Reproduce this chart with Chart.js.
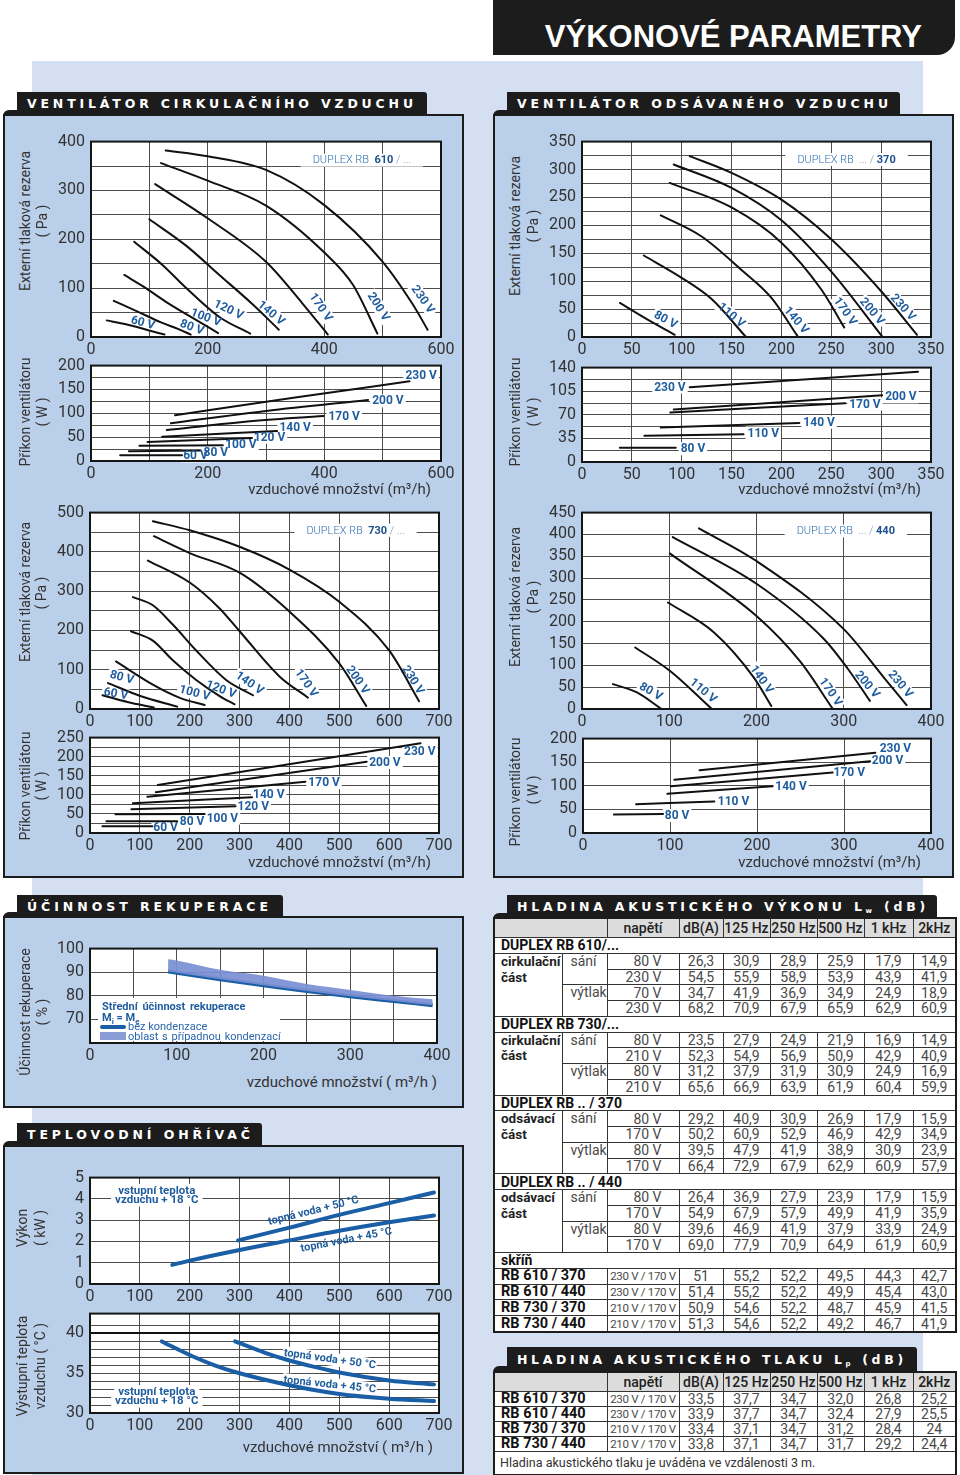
<!DOCTYPE html>
<html><head><meta charset="utf-8">
<script src="https://cdn.jsdelivr.net/npm/chart.js@4.4.1/dist/chart.umd.min.js"></script>
<style>
body{margin:0;width:960px;height:1475px;position:relative;overflow:hidden;background:#fff;font-family:Roboto,sans-serif}
.abs{position:absolute}
.bg{left:32px;top:61px;width:891px;height:1414px;background:#d4e0f1}
.head{left:493px;top:0;width:462px;height:55px;background:#1c1c1c;border-bottom-right-radius:18px;color:#fff;font:bold 31px "Liberation Sans",Arial,sans-serif;text-align:right;box-sizing:border-box;padding-right:33px;line-height:74px}
.tab{position:absolute;background:#1c1c1c;color:#fff;font:bold 12.5px "DejaVu Sans",sans-serif;white-space:nowrap;box-sizing:border-box;padding-left:10px;border-top-right-radius:3px}
.tab sub{font-size:7px;vertical-align:-2px}
.bump{position:absolute;background:#1c1c1c;border-top-left-radius:8px;width:16px;height:6px}
.panel{position:absolute;background:#bacfe9;border:2px solid #1c1c1c;box-sizing:border-box}
.yt{position:absolute;transform:translate(-50%,-50%) rotate(-90deg);white-space:nowrap;font:14px Roboto;color:#333}
.xt{position:absolute;white-space:nowrap;font:15px Roboto;color:#333;transform:translateY(-50%)}
.tb{position:absolute;border-collapse:collapse;table-layout:fixed;border:2px solid #1c1c1c;background:#fff;font:14px Roboto;color:#4a4a4a}
.tb td{border:1px solid #333;padding:0;text-align:center;line-height:14px;white-space:nowrap;overflow:hidden}
.tb tr.hd td{background:#dcdcdc;color:#222;height:18px;font-weight:500}
.tb tr.sec td{text-align:left;font-weight:bold;color:#111;padding-left:6px}
.tb td.part{text-align:left;vertical-align:top;font-weight:bold;color:#222;padding-left:6px;line-height:15.8px;font-size:13.5px}
.tb td.side{text-align:left;vertical-align:top;padding-left:8px;line-height:15.8px}
.tb td.u{text-align:right;padding-right:17px}
.tb td.nm{text-align:left;font-weight:bold;color:#111;padding-left:6px;font-size:14.5px}
.tb td.uu{font-size:11.5px;letter-spacing:-0.3px}
.leg{position:absolute;left:98px;top:998px;width:182px;height:43px;background:#fff;color:#1f5d9e;font:11px Roboto;white-space:nowrap}
</style>
</head><body>
<div class="abs bg"></div>
<div class="abs head">VÝKONOVÉ PARAMETRY</div>
<script>
// ---------- data ----------
const volts8 = ['60 V', '80 V', '100 V', '120 V', '140 V', '170 V', '200 V', '230 V'];
const volts6 = ['80 V', '110 V', '140 V', '170 V', '200 V', '230 V'];

// DUPLEX RB 610 – tlak [m3/h, Pa]
const p610 = [
  [[27, 34], [60, 26], [95, 15], [126, 5]],
  [[39, 74], [80, 52], [120, 30], [150, 16], [171, 5]],
  [[57, 127], [90, 103], [134, 68], [180, 35], [218, 8]],
  [[74, 195], [123, 147], [160, 104], [220, 41], [273, 7]],
  [[100, 241], [163, 187], [220, 127], [277, 67], [322, 15]],
  [[110, 313], [200, 243], [300, 154], [363, 68], [406, 5]],
  [[120, 356], [200, 320], [300, 269], [400, 173], [449, 107], [491, 7]],
  [[128, 382], [200, 370], [300, 342], [400, 270], [500, 154], [551, 68], [577, 15]]
];
// DUPLEX RB 610 – příkon [m3/h, W]
const w610 = [
  [[50, 12], [156, 12]],
  [[65, 20.5], [187, 22]],
  [[83, 32], [226, 33]],
  [[97, 40], [276, 48]],
  [[122, 51], [319, 63]],
  [[130, 65], [260, 82], [399, 94.5]],
  [[137, 79], [300, 105], [475, 128]],
  [[144, 96], [350, 133], [546, 167]]
];
// DUPLEX RB 730 – tlak
const p730 = [
  [[25, 35], [75, 18], [128, 4]],
  [[36, 66], [101, 33], [175, 6]],
  [[52, 121], [126, 62], [179, 29], [230, 10]],
  [[82, 198], [126, 174], [166, 124], [213, 74], [260, 33], [290, 12]],
  [[86, 285], [126, 264], [166, 215], [213, 149], [273, 74], [327, 35]],
  [[116, 378], [200, 322], [260, 256], [300, 198], [380, 83], [437, 29]],
  [[128, 440], [200, 397], [300, 347], [400, 248], [500, 116], [554, 8]],
  [[126, 478], [200, 455], [300, 413], [400, 355], [500, 273], [600, 149], [660, 20]]
];
// DUPLEX RB 730 – příkon
const w730 = [
  [[25, 18], [125, 18]],
  [[33, 31], [175, 31]],
  [[51, 49], [230, 49.5]],
  [[83, 62], [292, 70]],
  [[86, 78], [325, 94]],
  [[115, 95], [432, 134]],
  [[132, 107], [555, 187]],
  [[136, 126], [663, 235]]
];
// DUPLEX RB ../370 – tlak
const p370 = [
  [[38, 61], [65, 32], [93, 4]],
  [[62, 146], [100, 106], [130, 68], [164, 1]],
  [[79, 218], [120, 180], [160, 120], [190, 70], [216, 2]],
  [[88, 276], [150, 232], [200, 169], [240, 85], [263, 17]],
  [[92, 309], [150, 267], [200, 209], [250, 117], [301, 1]],
  [[108, 324], [150, 294], [200, 246], [250, 175], [300, 82], [336, 4]]
];
// DUPLEX RB ../370 – příkon
const w370 = [
  [[38, 21], [94, 21]],
  [[62.5, 39], [162, 41]],
  [[79, 51], [218, 58]],
  [[88.5, 73.5], [264, 87]],
  [[92, 78], [301, 99]],
  [[108, 111], [337, 134]]
];
// DUPLEX RB ../440 – tlak
const p440 = [
  [[35.5, 57], [63, 38], [90, 1.5]],
  [[61, 141], [101, 87], [148, 1.5]],
  [[98.5, 244], [151, 176], [197, 72], [217, 7]],
  [[101, 356], [200, 213], [250, 109], [287, 1.5]],
  [[104, 394], [200, 287], [277, 161], [304, 94], [330, 18.5]],
  [[134, 414], [200, 339], [300, 183], [346, 72], [372, 9]]
];
// DUPLEX RB ../440 – příkon
const w440 = [
  [[35.5, 39], [92, 40]],
  [[61, 61], [151, 67]],
  [[97, 83], [218, 99]],
  [[101, 99], [287, 128]],
  [[105, 113], [330, 152]],
  [[134, 133], [336, 170]]
];
// účinnost rekuperace
const effFlow = [90, 100, 150, 200, 250, 300, 350, 395];
const effDry = [90.3, 89.8, 87, 84.5, 82, 79.8, 77.8, 76];
const effWet = [95.5, 95, 91, 88.5, 85, 82.5, 80, 78.5];
// teplovodní ohřívač
const heat45 = [[165, 0.9], [200, 1.1], [300, 1.6], [400, 2.05], [500, 2.5], [600, 2.9], [690, 3.22]];
const heat50 = [[297, 2.05], [400, 2.65], [500, 3.25], [600, 3.8], [690, 4.3]];
const tout45 = [[144, 39], [200, 37.3], [250, 36], [300, 35], [400, 33.5], [500, 32.4], [600, 31.8], [690, 31.5]];
const tout50 = [[291, 39], [350, 37.6], [400, 36.6], [450, 35.8], [500, 35.1], [600, 34.1], [690, 33.6]];

// tabulky
const noiseCols = ['napětí', 'dB(A)', '125 Hz', '250 Hz', '500 Hz', '1 kHz', '2kHz'];
const lw610 = [
  ['80 V', '26,3', '30,9', '28,9', '25,9', '17,9', '14,9'],
  ['230 V', '54,5', '55,9', '58,9', '53,9', '43,9', '41,9'],
  ['70 V', '34,7', '41,9', '36,9', '34,9', '24,9', '18,9'],
  ['230 V', '68,2', '70,9', '67,9', '65,9', '62,9', '60,9']
];
const lw730 = [
  ['80 V', '23,5', '27,9', '24,9', '21,9', '16,9', '14,9'],
  ['210 V', '52,3', '54,9', '56,9', '50,9', '42,9', '40,9'],
  ['80 V', '31,2', '37,9', '31,9', '30,9', '24,9', '16,9'],
  ['210 V', '65,6', '66,9', '63,9', '61,9', '60,4', '59,9']
];
const lw370 = [
  ['80 V', '29,2', '40,9', '30,9', '26,9', '17,9', '15,9'],
  ['170 V', '50,2', '60,9', '52,9', '46,9', '42,9', '34,9'],
  ['80 V', '39,5', '47,9', '41,9', '38,9', '30,9', '23,9'],
  ['170 V', '66,4', '72,9', '67,9', '62,9', '60,9', '57,9']
];
const lw440 = [
  ['80 V', '26,4', '36,9', '27,9', '23,9', '17,9', '15,9'],
  ['170 V', '54,9', '67,9', '57,9', '49,9', '41,9', '35,9'],
  ['80 V', '39,6', '46,9', '41,9', '37,9', '33,9', '24,9'],
  ['170 V', '69,0', '77,9', '70,9', '64,9', '61,9', '60,9']
];
const lwCase = [
  ['RB 610 / 370', '230 V / 170 V', '51', '55,2', '52,2', '49,5', '44,3', '42,7'],
  ['RB 610 / 440', '230 V / 170 V', '51,4', '55,2', '52,2', '49,9', '45,4', '43,0'],
  ['RB 730 / 370', '210 V / 170 V', '50,9', '54,6', '52,2', '48,7', '45,9', '41,5'],
  ['RB 730 / 440', '210 V / 170 V', '51,3', '54,6', '52,2', '49,2', '46,7', '41,9']
];
const lpCase = [
  ['RB 610 / 370', '230 V / 170 V', '33,5', '37,7', '34,7', '32,0', '26,8', '25,2'],
  ['RB 610 / 440', '230 V / 170 V', '33,9', '37,7', '34,7', '32,4', '27,9', '25,5'],
  ['RB 730 / 370', '210 V / 170 V', '33,4', '37,1', '34,7', '31,2', '28,4', '24'],
  ['RB 730 / 440', '210 V / 170 V', '33,8', '37,1', '34,7', '31,7', '29,2', '24,4']
];

// label placement (x, y in data units, rotation)
const p610Pos = [[89, 29, 15], [173, 20, 20], [197, 40, 20], [236, 56, 25], [309, 49, 40], [394, 61, 55], [493, 62, 58], [569, 77, 55]];
const p730Pos = [[52, 39, 10], [64, 81, 15], [210, 41, 15], [263, 50, 20], [320, 66, 35], [434, 66, 55], [537, 74, 55], [648, 74, 58]];
const p370Pos = [[84, 31, 28], [150, 39, 40], [215, 30, 50], [264, 46, 55], [291, 46, 50], [322, 53, 48]];
const p440Pos = [[79, 40, 30], [139, 42, 40], [206, 68, 55], [285, 39, 55], [327, 56, 50], [365, 57, 50]];
const w610Pos = [[158, 10.5], [193, 18.5], [230, 35], [279, 50], [323, 70], [407, 94], [482, 126], [539, 180]];
const w730Pos = [[127, 15], [180, 31], [234, 39], [296, 70], [327, 101], [438, 132], [560, 185], [630, 213]];
const w370Pos = [[99, 19.6], [166, 43], [222, 59], [268, 86], [304, 96.6], [104, 111, 'right']];
const w440Pos = [[94, 37], [155, 67], [221, 99], [288, 128], [332, 153], [341, 179]];

// ---------- helpers ----------
const LBL_FONT = 'bold 12px Roboto';
const BLUE = '#1f5d9e';
const LINE_BLUE = '#1a5ea6';

function el(cls, css, html) {
  const d = document.createElement('div');
  if (cls) d.className = cls;
  d.style.cssText = css;
  if (html !== undefined) d.innerHTML = html;
  document.body.appendChild(d);
  return d;
}

function tab(x1, x2, y1, y2, text, textW) {
  el('bump', `left:${x1 - 14}px;top:${y2 - 5}px`);
  const t = el('tab', `left:${x1}px;top:${y1}px;width:${x2 - x1}px;height:${y2 - y1}px;line-height:${y2 - y1 + 1}px`, `<span>${text}</span>`);
  const s = t.firstChild;
  const n = s.textContent.length;
  const w0 = s.getBoundingClientRect().width;
  s.style.letterSpacing = ((textW - w0) / (n - 1)).toFixed(2) + 'px';
}

function ytitle(x, y, text) { el('yt', `left:${x}px;top:${y}px`, text); }
function xtitle(right, y, text) { el('xt', `right:${960 - right}px;top:${y}px`, text); }

function curveSets(list, color, width) {
  return list.map(pts => ({
    data: pts.map(p => ({ x: p[0], y: p[1] })),
    borderColor: color, borderWidth: width, pointRadius: 0, fill: false,
    cubicInterpolationMode: 'monotone', borderCapStyle: 'round'
  }));
}

function voltNotes(volts, pos, align) {
  return pos.map((p, i) => ({ x: p[0], y: p[1], rot: typeof p[2] === 'number' ? p[2] : 0, text: volts[i], align: typeof p[2] === 'string' ? p[2] : align }));
}

function drawNote(chart, n, bgPass) {
  const c = chart.ctx;
  const px = chart.scales.x.getPixelForValue(n.x), py = chart.scales.y.getPixelForValue(n.y);
  const parts = n.parts || [[n.text, n.font || LBL_FONT, n.color || BLUE]];
  c.save();
  let w = 0;
  parts.forEach(p => { c.font = p[1]; w += c.measureText(p[0]).width; });
  const h = n.h || 11;
  const pad = n.pad === undefined ? 2 : n.pad;
  c.translate(px, py);
  c.rotate((n.rot || 0) * Math.PI / 180);
  const x0 = n.align === 'left' ? 0 : n.align === 'right' ? -w : -w / 2;
  if (bgPass) {
    if (n.bg !== false) { c.fillStyle = '#fff'; c.fillRect(x0 - pad, -h / 2 - 1, w + 2 * pad, h + 2); }
  } else {
    c.textBaseline = 'middle';
    let x = x0;
    parts.forEach(p => { c.font = p[1]; c.fillStyle = p[2]; c.fillText(p[0], x, 0.5); x += c.measureText(p[0]).width; });
  }
  c.restore();
}

const marks = {
  id: 'marks',
  beforeDraw(chart) {
    const a = chart.chartArea, c = chart.ctx;
    c.save(); c.fillStyle = '#fff'; c.fillRect(a.left, a.top, a.right - a.left, a.bottom - a.top); c.restore();
  },
  beforeDatasetsDraw(chart, args, o) { (o.notes || []).forEach(n => drawNote(chart, n, true)); },
  afterDatasetsDraw(chart, args, o) {
    (o.notes || []).forEach(n => drawNote(chart, n, false));
    const a = chart.chartArea, c = chart.ctx;
    c.save(); c.strokeStyle = '#151515'; c.lineWidth = 2;
    c.strokeRect(a.left, a.top, a.right - a.left, a.bottom - a.top); c.restore();
  }
};

function plot(box, o) {
  const padL = 52, padT = 10, padR = 28, padB = 24;
  const W = box[2] - box[0] + padL + padR, H = box[3] - box[1] + padT + padB;
  const cv = document.createElement('canvas');
  cv.width = W; cv.height = H;
  cv.style.cssText = `position:absolute;left:${box[0] - padL}px;top:${box[1] - padT}px;width:${W}px;height:${H}px`;
  document.body.appendChild(cv);
  const tickFont = { family: 'Roboto', size: 16 };
  const isMult = (v, m) => Math.abs(v / m - Math.round(v / m)) < 1e-6;
  new Chart(cv, {
    type: 'line',
    data: { datasets: o.datasets },
    options: {
      responsive: false, animation: false, events: [],
      layout: { padding: { top: padT, right: padR, left: 0, bottom: 0 } },
      plugins: { legend: { display: false }, tooltip: { enabled: false }, marks: { notes: o.notes || [] } },
      scales: {
        x: {
          type: 'linear', min: o.x[0], max: o.x[1],
          afterFit: s => { s.height = padB; },
          border: { display: false },
          grid: { color: '#4d4d4d', lineWidth: 1, drawTicks: false },
          ticks: { stepSize: o.x[2], autoSkip: false, maxRotation: 0, padding: 3, font: tickFont, color: '#333',
            callback: v => isMult(v, o.x[3]) ? v : '' }
        },
        y: {
          type: 'linear', min: o.y[0], max: o.y[1],
          afterFit: s => { s.width = padL; },
          border: { display: false },
          grid: { color: o.gridColor || '#4d4d4d', lineWidth: o.gridWidth || 1, drawTicks: false },
          ticks: { stepSize: o.y[2], autoSkip: false, padding: 6, font: tickFont, color: '#333',
            callback: v => (isMult(v, o.y[3]) && !(o.yHide || []).includes(v)) ? v : '' }
        }
      }
    },
    plugins: [marks]
  });
}

function tag(x, y, model, size) {
  const parts = model === 'L'
    ? [['DUPLEX RB  ', '300 11px Roboto', '#2f6fb3'], [size, 'bold 11px Roboto', '#1d4f8c'], [' / ...', '300 11px Roboto', '#7f93ad']]
    : [['DUPLEX RB  ', '300 11px Roboto', '#2f6fb3'], ['... / ', '300 11px Roboto', '#7f93ad'], [size, 'bold 11px Roboto', '#1d4f8c']];
  return { x: x, y: y, align: 'left', parts: parts, pad: 12 };
}

// ---------- layout ----------
tab(17, 427, 92, 115, 'VENTILÁTOR CIRKULAČNÍHO VZDUCHU', 386);
tab(507, 900, 92, 115, 'VENTILÁTOR ODSÁVANÉHO VZDUCHU', 371);
el('panel', 'left:3px;top:114px;width:461px;height:764px');
el('panel', 'left:493px;top:114px;width:461px;height:764px');
tab(17, 283, 895, 917, 'ÚČINNOST REKUPERACE', 241);
el('panel', 'left:3px;top:916px;width:461px;height:192px');
tab(17, 262, 1123, 1146, 'TEPLOVODNÍ OHŘÍVAČ', 223);
el('panel', 'left:3px;top:1145px;width:461px;height:329px');
tab(507, 937, 895, 918, 'HLADINA AKUSTICKÉHO VÝKONU L<sub>w</sub> (dB)', 408);
tab(507, 917, 1347, 1371, 'HLADINA AKUSTICKÉHO TLAKU L<sub>p</sub> (dB)', 386);

// ---------- ventilátor cirkulačního vzduchu ----------
plot([91, 136, 441, 337], {
  x: [0, 600, 100, 200], y: [0, 400, 50, 100],
  datasets: curveSets(p610, '#111', 2),
  notes: voltNotes(volts8, p610Pos, 'center').concat([tag(380, 362, 'L', '610')])
});
plot([91, 360, 441, 461], {
  x: [0, 600, 100, 200], y: [0, 200, 25, 50],
  datasets: curveSets(w610, '#111', 2),
  notes: voltNotes(volts8, w610Pos, 'left')
});
plot([90, 507, 439, 709], {
  x: [0, 700, 100, 100], y: [0, 500, 50, 100],
  datasets: curveSets(p730, '#111', 2),
  notes: voltNotes(volts8, p730Pos, 'center').concat([tag(434, 455, 'L', '730')])
});
plot([90, 732, 439, 833], {
  x: [0, 700, 100, 100], y: [0, 250, 25, 50],
  datasets: curveSets(w730, '#111', 2),
  notes: voltNotes(volts8, w730Pos, 'left')
});
ytitle(25, 221, 'Externí tlaková rezerva'); ytitle(42, 221, '( Pa )');
ytitle(25, 412, 'Příkon ventilátoru'); ytitle(42, 412, '( W )');
ytitle(25, 592, 'Externí tlaková rezerva'); ytitle(41, 593, '( Pa )');
ytitle(25, 786, 'Příkon ventilátoru'); ytitle(41, 786, '( W )');
xtitle(431, 489, 'vzduchové množství (m³/h)');
xtitle(431, 862, 'vzduchové množství (m³/h)');

// ---------- ventilátor odsávaného vzduchu ----------
plot([582, 136, 931, 337], {
  x: [0, 350, 50, 50], y: [0, 350, 25, 50],
  datasets: curveSets(p370, '#111', 2),
  notes: voltNotes(volts6, p370Pos, 'center').concat([tag(216, 318, 'R', '370')])
});
plot([582, 362, 931, 462], {
  x: [0, 350, 50, 50], y: [0, 140, 17.5, 35],
  datasets: curveSets(w370, '#111', 2),
  notes: voltNotes(volts6, w370Pos, 'left')
});
plot([582, 507, 931, 709], {
  x: [0, 400, 100, 100], y: [0, 450, 50, 50],
  datasets: curveSets(p440, '#111', 2),
  notes: voltNotes(volts6, p440Pos, 'center').concat([tag(246, 408, 'R', '440')])
});
plot([583, 733, 931, 833], {
  x: [0, 400, 100, 100], y: [0, 200, 50, 50],
  datasets: curveSets(w440, '#111', 2),
  notes: voltNotes(volts6, w440Pos, 'left')
});
ytitle(515, 226, 'Externí tlaková rezerva'); ytitle(533, 226, '( Pa )');
ytitle(515, 412, 'Příkon ventilátoru'); ytitle(533, 412, '( W )');
ytitle(515, 597, 'Externí tlaková rezerva'); ytitle(533, 597, '( Pa )');
ytitle(515, 792, 'Příkon ventilátoru'); ytitle(533, 790, '( W )');
xtitle(921, 489, 'vzduchové množství (m³/h)');
xtitle(921, 862, 'vzduchové množství (m³/h)');

// ---------- účinnost rekuperace ----------
plot([90, 943, 437, 1043], {
  x: [0, 400, 50, 100], y: [60, 100, 10, 10], yHide: [60],
  datasets: [
    { data: effFlow.map((x, i) => ({ x: x, y: effWet[i] })), borderWidth: 0, pointRadius: 0, backgroundColor: 'rgba(122,142,210,0.92)', fill: '+1', cubicInterpolationMode: 'monotone' },
    { data: effFlow.map((x, i) => ({ x: x, y: effDry[i] })), borderColor: LINE_BLUE, borderWidth: 4, pointRadius: 0, fill: false, cubicInterpolationMode: 'monotone' }
  ]
});
el('leg', '', `
  <div style="position:absolute;left:4px;top:2px;font-weight:bold;word-spacing:2px">Střední účinnost rekuperace</div>
  <div style="position:absolute;left:4px;top:13px;font-weight:bold">M<sub style="font-size:8px">i</sub> = M<sub style="font-size:8px">e</sub></div>
  <div style="position:absolute;left:2px;top:27px;width:26px;height:4px;border-radius:2px;background:${LINE_BLUE}"></div>
  <div style="position:absolute;left:30px;top:22px;color:#2a66aa">bez kondenzace</div>
  <div style="position:absolute;left:2px;top:34px;width:26px;height:8px;background:#8a9dd6"></div>
  <div style="position:absolute;left:30px;top:32px;color:#2a66aa;word-spacing:1px">oblast s případnou kondenzací</div>`);
ytitle(25, 1012, 'Účinnost rekuperace'); ytitle(42, 1012, '( % )');
xtitle(437, 1082, 'vzduchové množství ( m³/h )');

// ---------- teplovodní ohřívač ----------
const NOTE_FONT = 'bold 11.5px Roboto';
const NOTE_FONT2 = 'bold 11px Roboto';
plot([90, 1172, 439, 1284], {
  x: [0, 700, 100, 100], y: [0, 5, 1, 1],
  datasets: curveSets([heat45, heat50], LINE_BLUE, 4),
  notes: [
    { x: 134, y: 4.4, text: 'vstupní teplota', font: NOTE_FONT, pad: 4 },
    { x: 134, y: 3.95, text: 'vzduchu + 18 °C', font: NOTE_FONT, pad: 4 },
    { x: 448, y: 3.45, rot: -14, text: 'topná voda + 50 °C', font: NOTE_FONT2, bg: false },
    { x: 514, y: 2.08, rot: -11, text: 'topná voda + 45 °C', font: NOTE_FONT2, bg: false }
  ]
});
plot([90, 1308, 439, 1413], {
  x: [0, 700, 100, 100], y: [30, 42.5, 1, 5],
  gridColor: c => c.tick && c.tick.value === 40 ? '#111' : '#4d4d4d',
  gridWidth: c => c.tick && c.tick.value === 40 ? 2 : 1,
  datasets: curveSets([tout45, tout50], LINE_BLUE, 4),
  notes: [
    { x: 134, y: 32.7, text: 'vstupní teplota', font: NOTE_FONT, pad: 4 },
    { x: 134, y: 31.5, text: 'vzduchu + 18 °C', font: NOTE_FONT, pad: 4 },
    { x: 481, y: 36.8, rot: 8, text: 'topná voda + 50 °C', font: NOTE_FONT2, pad: 1 },
    { x: 481, y: 33.6, rot: 6, text: 'topná voda + 45 °C', font: NOTE_FONT2, pad: 1 }
  ]
});
ytitle(22, 1228, 'Výkon'); ytitle(40, 1228, '( kW )');
ytitle(22, 1366, 'Výstupní teplota'); ytitle(40, 1366, 'vzduchu ( °C )');
xtitle(433, 1447, 'vzduchové množství ( m³/h )');

// ---------- tabulky ----------
const colW = [68, 45, 72, 44, 47, 47, 47, 49, 43];
function colgroup() { return '<colgroup>' + colW.map(w => `<col style="width:${w}px">`).join('') + '</colgroup>'; }
function headRow() { return '<tr class="hd"><td colspan="2"></td>' + noiseCols.map(c => `<td>${c}</td>`).join('') + '</tr>'; }
function fanBlock(title, part, rows) {
  let h = `<tr class="sec"><td colspan="9">${title}</td></tr>`;
  rows.forEach((r, i) => {
    h += '<tr>';
    if (i === 0) h += `<td rowspan="4" class="part">${part}</td>`;
    if (i === 0) h += '<td rowspan="2" class="side">sání</td>';
    if (i === 2) h += '<td rowspan="2" class="side">výtlak</td>';
    h += `<td class="u">${r[0]}</td>` + r.slice(1).map(v => `<td>${v}</td>`).join('') + '</tr>';
  });
  return h;
}
function caseRows(rows) {
  return rows.map(r => `<tr><td colspan="2" class="nm">${r[0]}</td><td class="uu">${r[1]}</td>` + r.slice(2).map(v => `<td>${v}</td>`).join('') + '</tr>').join('');
}
const t1 = document.createElement('table');
t1.className = 'tb';
t1.style.cssText = 'left:493px;top:917px;width:462px;height:416px';
t1.innerHTML = colgroup() + headRow() +
  fanBlock('DUPLEX RB 610/...', 'cirkulační<br>část', lw610) +
  fanBlock('DUPLEX RB 730/...', 'cirkulační<br>část', lw730) +
  fanBlock('DUPLEX RB .. / 370', 'odsávací<br>část', lw370) +
  fanBlock('DUPLEX RB .. / 440', 'odsávací<br>část', lw440) +
  '<tr class="sec"><td colspan="9">skříň</td></tr>' + caseRows(lwCase);
document.body.appendChild(t1);

const t2 = document.createElement('table');
t2.className = 'tb';
t2.style.cssText = 'left:493px;top:1371px;width:462px;height:103px';
t2.innerHTML = colgroup() + headRow() + caseRows(lpCase) +
  '<tr><td colspan="9" style="text-align:left;padding-left:5px;font-size:12.5px;color:#333;height:22px">Hladina akustického tlaku je uváděna ve vzdálenosti 3 m.</td></tr>';
document.body.appendChild(t2);
</script>
</body></html>
